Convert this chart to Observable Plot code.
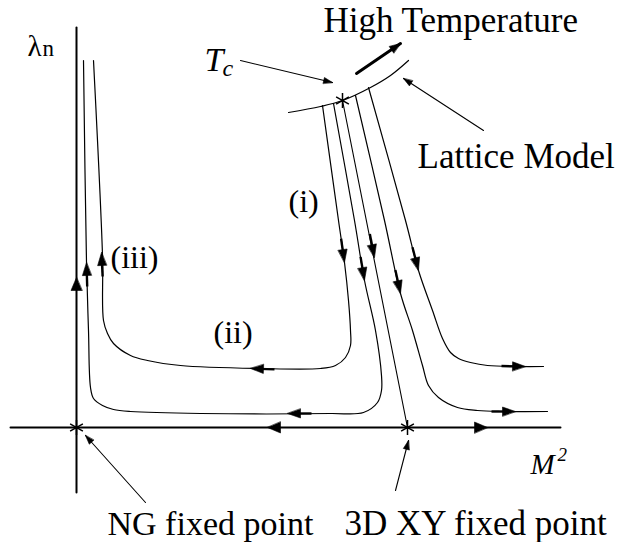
<!DOCTYPE html>
<html><head><meta charset="utf-8">
<script src="https://cdn.jsdelivr.net/npm/d3@7"></script>
<script src="https://cdn.jsdelivr.net/npm/@observablehq/plot@0.6"></script>
</head><body style="margin:0;background:#fff"><div id="chart"></div>
<script>
// Schematic RG-flow diagram. Coordinates: x = M^2 (NG fixed point at 0), y = lambda_n.
const axisM2Extent = [-66, 484];
const axisLambdaExtent = [-65, 400];
const fixedPoints = [
  {name: "NG", x: 0, y: 0},
  {name: "3D XY", x: 331, y: 0},
  {name: "Tc", x: 266, y: 327}
];
const latticeModel = [[212,315],[244,321],[266,327],[294,340],[314,352],[332,367]];
// flow trajectories (direction of flow)
const flowOuter = [[246,322],[262,207],[268,165],[272,127],[274,97],[274,82],[269,70],[259,62],[244,59],[184,59],[104,62],[71,67],[54,72],[37,84],[31,94],[27,107],[26,172],[17,367]];
const flowInner = [[257,324],[278,207],[288,147],[299,97],[305,52],[305,37],[301,25],[287,15],[254,14],[124,14],[54,16],[37,18],[26,22],[17,29],[14,40],[12,97],[10,165],[7,367]];
const flowCritical = [[266,327],[331,0]];
const flowRight1 = [[279,332],[308,207],[324,134],[336,97],[346,62],[352,42],[362,30],[381,20],[401,17],[424,16],[471,16]];
const flowRight2 = [[292,340],[329,207],[342,157],[356,117],[366,89],[374,75],[382,69],[394,65],[411,62],[467,61]];
const axisM2Line = [[axisM2Extent[0],0],[axisM2Extent[1],0]];
const axisLambdaLine = [[0,axisLambdaExtent[0]],[0,axisLambdaExtent[1]]];
// arrow tips placed on the curves
const flowArrows = [
  {curve: "outer", tip: [268,165]}, {curve: "inner", tip: [288,147]},
  {curve: "critical", tip: [298,170]}, {curve: "right1", tip: [324,134]},
  {curve: "right2", tip: [342,157]}, {curve: "outer", tip: [25,175]},
  {curve: "inner", tip: [10,165]}, {curve: "outer", tip: [174,59]},
  {curve: "inner", tip: [211,14]}, {curve: "right1", tip: [439,16]},
  {curve: "right2", tip: [449,61]}
];
const axisArrows = [
  {curve: "axisM2Rev", tip: [191,0]}, {curve: "axisM2", tip: [411,0]},
  {curve: "axisLambda", tip: [0,150]}
];
const highTempArrow = [[280,354],[324,384]];
const pointers = [
  {label: "Tc", from: [164,367], to: [256,345]},
  {label: "Lattice Model", from: [407,297], to: [327,349]},
  {label: "NG", from: [69,-75], to: [9,-8]},
  {label: "3D XY", from: [319,-63], to: [332,-13]}
];
const labels = [
  {text: "High Temperature", x: 247, y: 396, size: 35, style: "normal"},
  {text: "Lattice Model", x: 341, y: 260, size: 35, style: "normal"},
  {text: "NG fixed point", x: 31, y: -107, size: 34, style: "normal"},
  {text: "3D XY fixed point", x: 268, y: -107, size: 35, style: "normal"},
  {text: "(i)", x: 212, y: 216, size: 32, style: "normal"},
  {text: "(ii)", x: 137, y: 85, size: 32, style: "normal"},
  {text: "(iii)", x: 34, y: 160, size: 32, style: "normal"},
  {text: "T", x: 128, y: 357, size: 34, style: "italic"},
  {text: "c", x: 146, y: 352, size: 24, style: "italic"},
  {text: "λ", x: -49, y: 372, size: 29, style: "normal"},
  {text: "n", x: -34, y: 372, size: 23, style: "normal"},
  {text: "M", x: 454, y: -46, size: 29, style: "italic"},
  {text: "2", x: 481, y: -33, size: 19, style: "italic"}
];

const curveMap = {
  outer: flowOuter, inner: flowInner, critical: flowCritical,
  right1: flowRight1, right2: flowRight2,
  axisM2: axisM2Line, axisM2Rev: axisM2Line.slice().reverse(), axisLambda: axisLambdaLine
};

function tangent(pts, tip) {
  let best = Infinity, dir = [1, 0];
  for (let i = 0; i < pts.length - 1; i++) {
    const [ax, ay] = pts[i], [bx, by] = pts[i + 1];
    const dx = bx - ax, dy = by - ay, L2 = dx * dx + dy * dy;
    let t = ((tip[0] - ax) * dx + (tip[1] - ay) * dy) / L2;
    t = Math.max(0, Math.min(1, t));
    const px = ax + t * dx, py = ay + t * dy;
    const d = Math.hypot(tip[0] - px, tip[1] - py);
    if (d < best) { best = d; const L = Math.sqrt(L2); dir = [dx / L, dy / L]; }
  }
  return dir;
}
function head(id, tip, dir, len, wid) {
  const [dx, dy] = dir, nx = -dy, ny = dx;
  const bx = tip[0] - len * dx, by = tip[1] - len * dy;
  return [
    {id, x: tip[0], y: tip[1]},
    {id, x: bx + nx * wid / 2, y: by + ny * wid / 2},
    {id, x: bx - nx * wid / 2, y: by - ny * wid / 2}
  ];
}
function toRows(id, pts) { return pts.map(([x, y]) => ({id, x, y})); }

const heads = [], shafts = [];
flowArrows.forEach((a, i) => {
  const d = tangent(curveMap[a.curve], a.tip);
  heads.push(...head("f" + i, a.tip, d, 13, 9));
  shafts.push({id: "s" + i, x1: a.tip[0] - 24 * d[0], y1: a.tip[1] - 24 * d[1], x2: a.tip[0] - 9 * d[0], y2: a.tip[1] - 9 * d[1]});
});
axisArrows.forEach((a, i) => {
  const d = tangent(curveMap[a.curve], a.tip);
  heads.push(...head("a" + i, a.tip, d, 13, 11));
});
{
  const d = tangent(highTempArrow, highTempArrow[1]);
  heads.push(...head("ht", highTempArrow[1], d, 11, 8));
}
pointers.forEach((p, i) => {
  const d = tangent([p.from, p.to], p.to);
  heads.push(...head("p" + i, p.to, d, 9, 6));
});

const thinCurves = [
  ...toRows("outer", flowOuter), ...toRows("inner", flowInner),
  ...toRows("right1", flowRight1), ...toRows("right2", flowRight2)
];
const straightThin = [
  ...toRows("critical", flowCritical),
  ...pointers.flatMap((p, i) => toRows("ptr" + i, [p.from, p.to]))
];
const axes = [...toRows("h", axisM2Line), ...toRows("v", axisLambdaLine)];

const font = "Liberation Serif";
const chart = Plot.plot({
  width: 625, height: 542,
  margin: 0,
  x: {domain: [-76, 549], range: [0, 625], axis: null},
  y: {domain: [-115, 427], range: [542, 0], axis: null},
  marks: [
    Plot.line(axes, {x: "x", y: "y", z: "id", stroke: "black", strokeWidth: 2}),
    Plot.line(toRows("lattice", latticeModel), {x: "x", y: "y", curve: "catmull-rom", stroke: "black", strokeWidth: 1.2}),
    Plot.line(thinCurves, {x: "x", y: "y", z: "id", curve: "catmull-rom", stroke: "black", strokeWidth: 1.2}),
    Plot.line(straightThin, {x: "x", y: "y", z: "id", stroke: "black", strokeWidth: 1.1}),
    Plot.line(toRows("ht", highTempArrow), {x: "x", y: "y", stroke: "black", strokeWidth: 3}),
    Plot.link(shafts, {x1: "x1", y1: "y1", x2: "x2", y2: "y2", stroke: "black", strokeWidth: 2.4}),
    Plot.line(heads, {x: "x", y: "y", z: "id", curve: "linear-closed", fill: "black", stroke: "black", strokeWidth: 0.6}),
    Plot.dot(fixedPoints, {x: "x", y: "y", symbol: "asterisk", r: 7, stroke: "black", strokeWidth: 1.5}),
    ...labels.map(l => Plot.text([l], {x: "x", y: "y", text: "text", textAnchor: "start", lineAnchor: "bottom",
      fontSize: l.size, fontFamily: font, fontStyle: l.style, fill: "black"}))
  ]
});
chart.setAttribute("font-family", font);
document.getElementById("chart").appendChild(chart);
// make sure the serif font is resolved before the page is photographed
chart.querySelectorAll("text").forEach(t => {
  t.setAttribute("font-family", font);
  t.style.fontFamily = "'Liberation Serif'";
  void getComputedStyle(t).fontFamily;
});
if (document.fonts && document.fonts.load) {
  document.fonts.load("34px 'Liberation Serif'");
  document.fonts.load("italic 34px 'Liberation Serif'");
}
void chart.getBoundingClientRect();
</script>
</body></html>
